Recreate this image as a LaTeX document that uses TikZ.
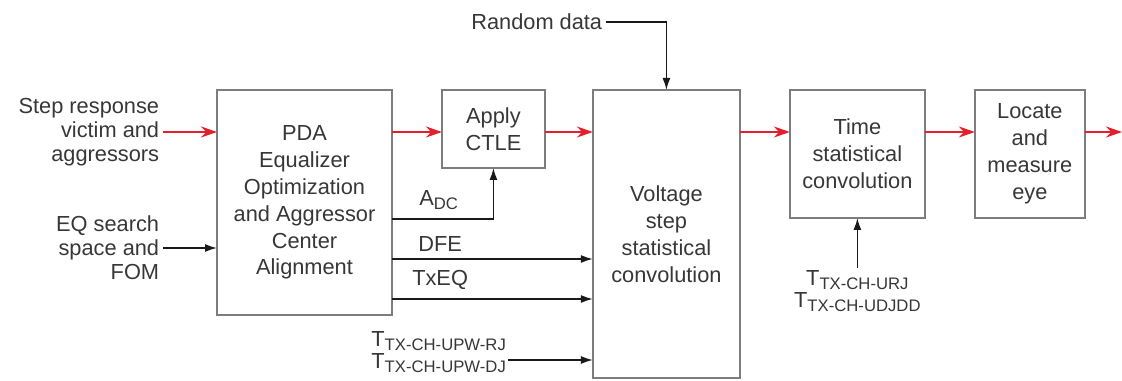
\documentclass[tikz,border=0pt]{standalone}
\usepackage{fontspec}
\setmainfont{Liberation Sans}
\usetikzlibrary{positioning,arrows.meta}
\definecolor{flowred}{RGB}{226,32,44}
\definecolor{boxgray}{RGB}{125,125,125}
\definecolor{txtgray}{RGB}{55,55,55}
\newcommand{\subtxt}[1]{\raisebox{-2.3pt}{\fontsize{9.5}{10}\selectfont #1}}
\tikzset{blockbox/.style = {draw=boxgray, line width=1.1pt, align=center, text=txtgray, font=\fontsize{12.4}{15.3}\selectfont, inner sep=0pt, outer sep=0pt}}
\tikzset{lbl/.style = {text=txtgray, font=\fontsize{12.4}{13.6}\selectfont, inner sep=2pt}}
\tikzset{sublbl/.style = {text=txtgray, font=\fontsize{12.4}{12.5}\selectfont, inner sep=1pt}}
\tikzset{redflow/.style = {draw=flowred, line width=1.1pt, -{Stealth[length=3.2mm,width=2.2mm]}}}
\tikzset{sigflow/.style = {draw=black!90, line width=0.9pt, -{Latex[length=2.4mm,width=1.6mm]}}}

\begin{document}
\begin{tikzpicture}[x=0.02cm, y=-0.02cm, node distance=1cm]
  \useasboundingbox (0,0) rectangle (1122,381);

  % blocks
  \node [blockbox, anchor=north west, minimum width=3.5cm, minimum height=4.5cm] (pda) at (217,90)
    {PDA\\Equalizer\\Optimization\\and Aggressor\\Center\\Alignment};
  \node [blockbox, right=of pda.north east, anchor=north west, minimum width=2.06cm, minimum height=1.56cm] (ctle) {Apply\\CTLE};
  \node [blockbox, right=0.96cm of ctle.north east, anchor=north west, minimum width=2.94cm, minimum height=5.76cm] (volt)
    {Voltage\\step\\statistical\\convolution};
  \node [blockbox, right=of volt.north east, anchor=north west, minimum width=2.7cm, minimum height=2.56cm] (time)
    {Time\\statistical\\convolution};
  \node [blockbox, right=of time.north east, anchor=north west, minimum width=2.2cm, minimum height=2.56cm] (eye)
    {Locate\\and\\measure\\eye};

  % inputs
  \node [lbl, anchor=east, align=right] (stepin) at (163,132) {Step response\\victim and\\aggressors};
  \node [lbl, anchor=east, align=right] (eqin) at (163,248) {EQ search\\space and\\FOM};
  \node [lbl, anchor=east] (rnd) at (606,22) {Random data};
  \node [sublbl, anchor=east, align=left] (upw) at (508,352)
    {T\subtxt{TX-CH-UPW-RJ}\\T\subtxt{TX-CH-UPW-DJ}};
  \node [sublbl, anchor=north, align=center] (tjit) at (time.south |- 0,268)
    {T\subtxt{TX-CH-URJ}\\T\subtxt{TX-CH-UDJDD}};
  \coordinate (out) at (1122,132);

  % main flow
  \path[redflow] (stepin.east) -- (pda.west |- stepin.east);
  \path[redflow] (pda.east |- 0,132) -- (ctle.west |- 0,132);
  \path[redflow] (ctle.east |- 0,132) -- (volt.west |- 0,132);
  \path[redflow] (volt.east |- 0,132) -- (time.west |- 0,132);
  \path[redflow] (time.east |- 0,132) -- (eye.west |- 0,132);
  \path[redflow] (eye.east |- 0,132) -- (out);

  % side signals
  \path[sigflow] (eqin.east) -- (pda.west |- eqin.east);
  \path[sigflow] (rnd.east) -| (volt.north);
  \path[sigflow] (pda.east |- 0,219) node [lbl, above right, xshift=0.46cm, yshift=0.1cm] {A\subtxt{DC}} -| (ctle.south);
  \path[sigflow] (pda.east |- 0,259) node [lbl, above right, xshift=0.44cm, yshift=0.06cm] {DFE} -- (volt.west |- 0,259);
  \path[sigflow] (pda.east |- 0,299) node [lbl, above right, xshift=0.32cm, yshift=0.1cm] {TxEQ} -- (volt.west |- 0,299);
  \path[sigflow] (upw.east |- 0,360) -- (volt.west |- 0,360);
  \path[sigflow] (tjit.north) -- (time.south);
\end{tikzpicture}
\end{document}
